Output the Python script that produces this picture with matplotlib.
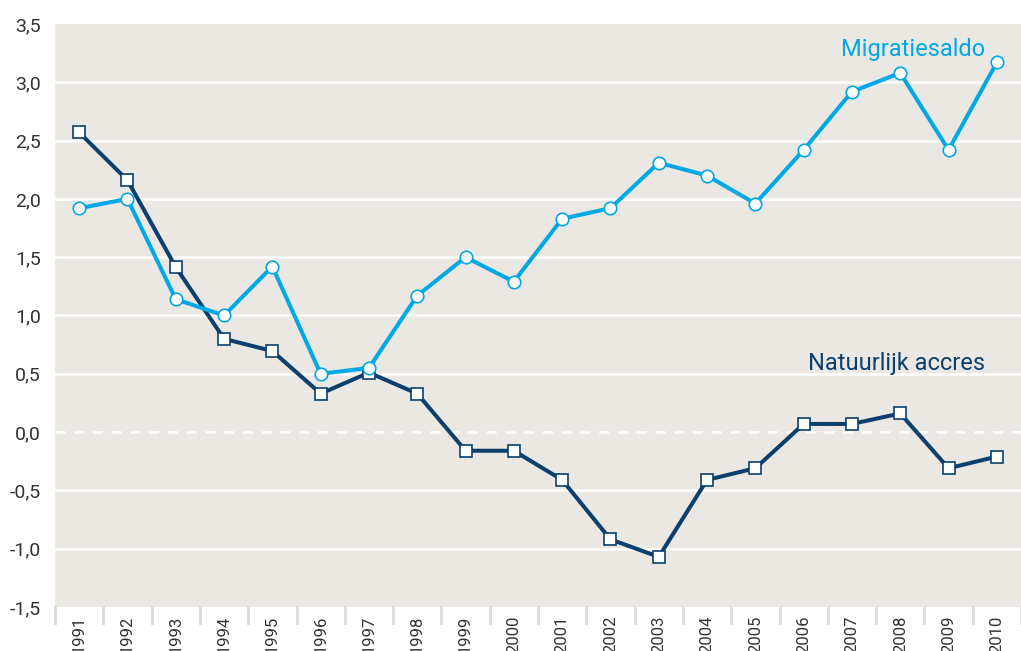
import matplotlib.pyplot as plt
import numpy as np

years = [str(y) for y in range(1991, 2011)]
migratie = [1.92, 2.00, 1.14, 1.00, 1.42, 0.50, 0.55, 1.17, 1.50, 1.29,
            1.83, 1.92, 2.31, 2.20, 1.96, 2.42, 2.92, 3.08, 2.42, 3.17]
natuurlijk = [2.57, 2.16, 1.415, 0.80, 0.695, 0.33, 0.51, 0.33, -0.16, -0.16,
              -0.41, -0.92, -1.07, -0.41, -0.31, 0.07, 0.07, 0.16, -0.31, -0.21]
yticks = [-1.5, -1.0, -0.5, 0.0, 0.5, 1.0, 1.5, 2.0, 2.5, 3.0, 3.5]

light = '#00a8e6'
navy = '#0b3f6e'
bg = '#ebe8e4'
tickfont = 'Roboto'

fig = plt.figure(figsize=(10.21, 6.51), dpi=100)
ax = fig.add_axes([55 / 1021, 44 / 651, 966 / 1021, 583 / 651])
ax.set_facecolor(bg)
for s in ax.spines.values():
    s.set_visible(False)

x = np.arange(len(years))
ax.set_xlim(-0.5, len(years) - 0.5)
ax.set_ylim(-1.5, 3.5)

for v in yticks:
    if v == 0:
        ax.axhline(v, color='white', lw=1.8, ls=(0, (4, 3.5)), zorder=1)
    elif v not in (-1.5, 3.5):
        ax.axhline(v, color='white', lw=1.8, zorder=1)

ax.plot(x, natuurlijk, color=navy, lw=2.9, marker='s', ms=8.5,
        mfc='white', mec=navy, mew=1.2, zorder=3)
ax.plot(x, migratie, color=light, lw=2.9, marker='o', ms=9,
        mfc='white', mec=light, mew=1.2, zorder=4)

ax.text(18.75, 3.28, 'Migratiesaldo', color=light, fontsize=17,
        family='Roboto', ha='right', va='center')
ax.text(18.75, 0.59, 'Natuurlijk accres', color=navy, fontsize=17,
        family='Roboto', ha='right', va='center')

ax.set_yticks(yticks)
ax.set_yticklabels([f'{v:.1f}'.replace('.', ',') for v in yticks],
                   fontsize=14, color='#333333', family=tickfont)
ax.set_xticks(x)
ax.set_xticklabels(years, rotation=90, fontsize=12, color='#333333',
                   family=tickfont, va='top')
ax.tick_params(axis='both', length=0)
ax.tick_params(axis='y', pad=10)
ax.tick_params(axis='x', pad=6)

# separators below the plot area
for b in np.arange(-0.5, len(years), 1.0):
    ax.plot([b, b], [-1.5, -1.637], color='#dedad5', lw=2, clip_on=False,
            zorder=0)

fig.savefig('out.png', dpi=100)
